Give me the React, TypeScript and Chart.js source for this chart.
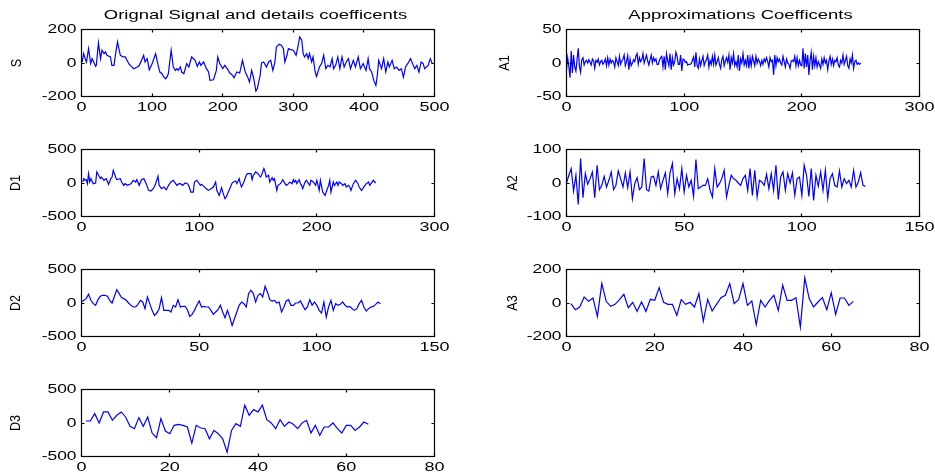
import React, { useEffect, useRef } from "react";
import { Chart, registerables } from "chart.js";
Chart.register(...registerables);

// ---------------- data ----------------
// Original signal S (sample index / value)
const S_T = [1,3,6,7,10,13,15,20,21,24,27,29,32,34,36,41,43,46,48,51,55,59,62,67,69,74,79,82,86,88,90,93,96,100,105,108,111,114,116,119,121,123,127,130,133,135,137,140,142,145,149,152,156,161,164,167,169,173,177,180,182,187,191,193,196,200,203,208,210,214,216,220,224,226,228,232,235,238,241,244,247,249,253,255,258,262,265,268,271,274,276,280,283,286,288,291,293,296,300,304,307,309,312,314,316,319,321,323,326,328,331,333,337,340,343,346,349,352,355,357,360,363,366,369,372,375,378,381,385,388,392,395,399,403,406,408,411,414,417,419,421,425,428,431,434,436,440,443,446,450,453,456,459,462,466,468,472,475,478,481,484,486,491,494,497];
const S_V = [6,56,16,6,86,-4,26,-20,-14,120,26,76,56,66,46,36,-14,-14,46,126,46,36,36,-4,-14,-34,-24,-14,26,46,6,26,-40,-4,56,-4,-54,-64,-80,-94,-84,-64,76,-24,-44,-34,-44,-24,-54,-64,-4,-24,36,16,-20,6,-14,6,-34,-54,-104,-100,-44,36,-4,-34,-14,-44,-60,-74,-88,-54,-60,-24,16,-54,-80,-114,-44,-94,-168,-154,-74,0,6,-24,6,16,-44,6,96,112,106,86,6,46,86,80,76,46,106,156,136,56,36,56,26,56,6,36,-54,-80,-24,-4,46,-34,-14,-24,26,-34,-14,36,-34,36,-24,6,26,-34,16,-24,36,-34,-4,-44,26,-34,-54,-104,-134,-74,16,-34,26,-54,6,-24,16,-34,-24,-44,-34,-84,-24,-4,26,6,-34,-14,-54,6,-4,-34,-14,26,-4];

// Detail D1 (sample index / value)
const D1_T = [1,2,3,4,5,6,7,8,10,12,13,15,16,17,19,21,23,25,26,27,29,30,33,34,36,37,39,42,44,46,47,49,51,53,55,57,59,61,63,65,66,68,70,72,74,76,78,80,81,83,84,86,88,90,91,93,95,96,98,99,101,102,104,106,108,110,112,114,115,117,118,119,121,122,123,126,128,129,131,132,134,135,136,138,140,141,143,144,145,146,147,148,150,152,153,155,156,157,159,160,162,163,164,166,167,169,170,171,173,174,176,177,179,180,181,182,183,185,186,187,188,190,191,193,194,195,197,199,200,202,203,205,207,208,210,211,212,214,215,217,218,219,221,222,224,225,227,228,229,231,233,235,236,238,239,241,242,244,245,246,248,250];
const D1_V = [15,65,40,50,-10,140,15,65,-10,0,165,100,65,90,40,65,-20,65,90,190,90,50,65,15,-35,-10,-35,-10,40,15,50,-35,50,65,-10,-110,-120,-85,-10,100,-35,-85,-60,-100,-35,15,40,-10,-35,-10,-10,-35,0,-10,-35,-135,-135,15,40,15,-35,-20,-50,-85,-110,-85,-60,15,-110,-185,-135,-70,-185,-235,-210,-85,0,15,30,-10,65,-10,-60,15,115,140,140,140,50,115,140,165,140,90,115,215,165,90,115,15,80,40,65,-110,-35,-10,15,50,-10,-35,-10,15,-10,50,15,40,-10,50,-10,-35,-85,15,40,-10,-35,40,15,-35,40,-110,40,-135,-185,-135,-35,40,-135,15,-35,15,-35,15,-10,-35,-10,-60,-35,-60,-110,-10,40,-10,-60,-110,-85,-35,-10,15,-35,-10,40,0];

// Detail D2, samples 0..127
const D2_V = [15,40,65,130,40,-10,-35,50,100,115,115,100,40,0,100,200,140,80,65,40,0,-35,-60,-60,-20,40,15,-85,90,-10,-110,-185,-150,-85,80,-110,-110,-110,-135,-35,-60,50,-60,-50,-50,-100,-200,-170,-110,-35,30,-60,-50,-60,-60,-110,-170,-135,-100,-35,-135,-220,-110,-210,-335,-235,-135,-35,15,-10,-60,140,190,140,15,115,140,90,250,165,50,30,40,0,15,-135,-60,30,50,-35,-35,0,0,30,-35,-100,-60,50,-35,15,-35,-110,-150,15,-210,-60,40,-110,-10,-35,-20,15,-35,-60,-50,-85,-110,-85,-10,40,-60,-120,-85,-60,-50,-20,15,-10];

// Detail D3, samples 1..65
const D3_V = [30,30,140,0,165,165,40,115,165,90,-50,-85,80,-50,90,-150,-220,65,-120,-160,-35,-20,-35,-60,-300,-35,-75,-85,-235,-110,-160,-235,-435,-110,-10,-50,265,115,200,165,265,50,0,-85,50,-50,15,-20,-85,0,40,-150,-35,-185,-60,-60,0,-85,-150,-35,-35,-110,-60,15,-20];

// Approximation A1, samples 0..250
const A1_V = [-10,8,-5,-22,18,-15,12,-6,-12,5,22,-5,-14,5,8,-3,2,4,0,5,1,-3,6,3,-8,4,1,6,-3,2,4,-2,1,6,-4,8,-3,6,0,4,2,-6,8,2,-4,10,-2,3,6,12,-4,2,11,-10,6,-4,0,5,2,10,14,-2,8,2,5,14,0,6,12,3,-3,5,12,0,8,3,6,-2,-2,4,8,10,-6,10,-10,14,4,-4,14,-10,8,-3,2,16,10,-2,-2,12,-12,6,5,1,2,-3,-2,-2,-1,4,9,-6,16,-4,-8,6,-4,4,10,-4,2,5,12,-6,4,-2,10,-2,12,-3,2,8,-2,-8,5,10,-4,3,8,1,12,-10,8,0,14,-4,2,-6,12,-12,6,0,14,-3,4,-4,12,-8,8,-4,10,3,-4,10,0,6,2,-4,4,-2,6,2,8,2,-6,8,2,4,-18,12,-4,8,2,6,0,-3,10,2,-6,6,0,-2,-8,3,4,2,10,-4,8,-4,4,-3,-4,22,-8,14,-6,12,-18,4,16,-10,10,-4,8,-6,2,-3,-8,6,-2,8,0,4,-10,3,10,-2,6,-4,4,2,8,-3,-6,4,0,12,-2,4,10,-4,-8,6,0,12,-8,2,4,-2,0,-2,0];

// Approximation A2, samples 0..127
const A2_V = [0,23,43,-24,23,-64,73,-44,28,-4,13,33,-44,53,-20,-7,20,-12,8,33,-20,-7,36,13,-12,30,-14,33,-47,-2,16,-20,-12,73,-20,-24,18,20,-7,33,-17,8,30,-32,30,58,-32,13,-17,43,-27,23,-12,8,-40,70,-17,-12,-7,-7,13,-22,-42,43,-12,-2,13,38,-42,-7,23,13,8,0,-7,13,23,-22,43,-37,38,-42,8,3,-7,26,-17,28,-22,53,-49,18,33,-22,28,0,30,-37,13,18,-37,53,23,-40,43,-52,23,-10,33,-22,38,-45,13,28,-7,-12,36,-12,13,-2,8,-12,38,-12,3,31,-7,-10];

// Approximation A3, samples 1..65
const A3_V = [-4,-40,-24,36,10,30,-80,116,10,-20,-8,20,52,-28,4,-50,6,-50,22,16,92,4,-8,-8,-74,20,-8,4,-24,56,-108,22,-48,-8,32,46,116,-4,20,116,-14,12,-130,16,-24,16,46,-44,106,16,16,32,-144,150,26,-24,6,32,-40,60,-68,30,30,-14,10];

// tick values
const S_XTICKS = [0, 100, 200, 300, 400, 500];
const S_YTICKS = [-200, 0, 200];
const D1_XTICKS = [0, 100, 200, 300];
const D_YTICKS = [-500, 0, 500];
const D2_XTICKS = [0, 50, 100, 150];
const D3_XTICKS = [0, 20, 40, 60, 80];
const A1_XTICKS = [0, 100, 200, 300];
const A1_YTICKS = [-50, 0, 50];
const A2_XTICKS = [0, 50, 100, 150];
const A2_YTICKS = [-100, 0, 100];
const A3_XTICKS = [0, 20, 40, 60, 80];
const A3_YTICKS = [-200, 0, 200];

const LEFT_TITLE = "Orignal Signal and details coefficents";
const RIGHT_TITLE = "Approximations Coefficents";

// ---------------- helpers ----------------
type Pt = { x: number; y: number };
const pairs = (t: number[], v: number[]): Pt[] => v.map((y, i) => ({ x: t[i], y }));
const seq = (v: number[], start: number): Pt[] => v.map((y, i) => ({ x: start + i, y }));

const FONT = "'Liberation Sans', Arial, Helvetica, sans-serif";
const ROW_H = 120;
const COLS = [
  { left: 0, width: 467, padL: 81.5, padR: 32.5, titleX: 255.5 },
  { left: 467, width: 468, padL: 99.5, padR: 15.5, titleX: 273.5 },
];
const PAD_T = 29.5;
const PAD_B = 23.5;
const TICK = 3;

type PanelDef = {
  col: number; row: number; label: string; labelX: number;
  pts: Pt[]; xMax: number; yMin: number; yMax: number;
  xTicks: number[]; yTicks: number[]; title?: string;
};

const PANELS: PanelDef[] = [
  { col: 0, row: 0, label: "S", labelX: 17.5, pts: pairs(S_T, S_V), xMax: 500, yMin: -200, yMax: 200, xTicks: S_XTICKS, yTicks: S_YTICKS, title: LEFT_TITLE },
  { col: 0, row: 1, label: "D1", labelX: 16, pts: pairs(D1_T, D1_V), xMax: 300, yMin: -500, yMax: 500, xTicks: D1_XTICKS, yTicks: D_YTICKS },
  { col: 0, row: 2, label: "D2", labelX: 16, pts: seq(D2_V, 0), xMax: 150, yMin: -500, yMax: 500, xTicks: D2_XTICKS, yTicks: D_YTICKS },
  { col: 0, row: 3, label: "D3", labelX: 16, pts: seq(D3_V, 1), xMax: 80, yMin: -500, yMax: 500, xTicks: D3_XTICKS, yTicks: D_YTICKS },
  { col: 1, row: 0, label: "A1", labelX: 38, pts: seq(A1_V, 0), xMax: 300, yMin: -50, yMax: 50, xTicks: A1_XTICKS, yTicks: A1_YTICKS, title: RIGHT_TITLE },
  { col: 1, row: 1, label: "A2", labelX: 46.5, pts: seq(A2_V, 0), xMax: 150, yMin: -100, yMax: 100, xTicks: A2_XTICKS, yTicks: A2_YTICKS },
  { col: 1, row: 2, label: "A3", labelX: 46.5, pts: seq(A3_V, 1), xMax: 80, yMin: -200, yMax: 200, xTicks: A3_XTICKS, yTicks: A3_YTICKS },
];

function stretchedText(ctx: CanvasRenderingContext2D, s: string, x: number, y: number, sx: number, align: CanvasTextAlign, font: string) {
  ctx.save();
  ctx.translate(x, y);
  ctx.scale(sx, 1);
  ctx.font = font;
  ctx.textAlign = align;
  ctx.textBaseline = "middle";
  ctx.fillText(s, 0, 0);
  ctx.restore();
}

function Panel({ p }: { p: PanelDef }) {
  const ref = useRef<HTMLCanvasElement>(null);
  const col = COLS[p.col];

  useEffect(() => {
    const canvas = ref.current!;
    const frame = {
      id: "frame",
      afterDraw(chart: any) {
        const ctx: CanvasRenderingContext2D = chart.ctx;
        const a = chart.chartArea;
        const xs = chart.scales.x;
        const ys = chart.scales.y;
        ctx.save();
        ctx.strokeStyle = "#000";
        ctx.lineWidth = 1.2;
        ctx.strokeRect(a.left, a.top, a.right - a.left, a.bottom - a.top);
        ctx.beginPath();
        for (const t of p.xTicks) {
          const x = Math.floor(xs.getPixelForValue(t)) + 0.5;
          ctx.moveTo(x, a.bottom); ctx.lineTo(x, a.bottom - TICK);
          ctx.moveTo(x, a.top); ctx.lineTo(x, a.top + TICK);
        }
        for (const t of p.yTicks) {
          const y = Math.floor(ys.getPixelForValue(t)) + 0.5;
          ctx.moveTo(a.left, y); ctx.lineTo(a.left + TICK, y);
          ctx.moveTo(a.right, y); ctx.lineTo(a.right - TICK, y);
        }
        ctx.stroke();
        ctx.fillStyle = "#000";
        for (const t of p.yTicks) {
          stretchedText(ctx, String(t), a.left - 5, ys.getPixelForValue(t) + 0.5, 1.45, "right", `12px ${FONT}`);
        }
        for (const t of p.xTicks) {
          stretchedText(ctx, String(t), xs.getPixelForValue(t), a.bottom + 11, 1.5, "center", `12px ${FONT}`);
        }
        if (p.title) {
          stretchedText(ctx, p.title, col.titleX, 15, 1.42, "center", `13px ${FONT}`);
        }
        // rotated y label
        ctx.save();
        ctx.translate(p.labelX, (a.top + a.bottom) / 2);
        ctx.rotate(-Math.PI / 2);
        ctx.scale(0.9, 1.0);
        ctx.font = `14px ${FONT}`;
        ctx.textAlign = "center";
        ctx.textBaseline = "middle";
        ctx.fillText(p.label, 0, 0);
        ctx.restore();
        ctx.restore();
      },
    };

    const chart = new Chart(canvas, {
      type: "line",
      data: {
        datasets: [
          {
            data: p.pts,
            borderColor: "#0000ff",
            borderWidth: 1.2,
            pointRadius: 0,
            tension: 0,
            fill: false,
          },
        ],
      },
      options: {
        animation: false,
        responsive: false,
        maintainAspectRatio: false,
        events: [],
        layout: { padding: { left: col.padL, right: col.padR, top: PAD_T, bottom: PAD_B } },
        plugins: { legend: { display: false }, tooltip: { enabled: false } },
        scales: {
          x: { type: "linear", min: 0, max: p.xMax, display: false },
          y: { type: "linear", min: p.yMin, max: p.yMax, display: false },
        },
      },
      plugins: [frame],
    } as any);
    return () => chart.destroy();
  }, []);

  return (
    <canvas
      ref={ref}
      width={col.width}
      height={ROW_H}
      style={{ position: "absolute", left: col.left, top: p.row * ROW_H, width: col.width, height: ROW_H }}
    />
  );
}

export default function App() {
  return (
    <div style={{ position: "fixed", left: 0, top: 0, width: 935, height: 475, overflow: "hidden", background: "#fff" }}>
      {PANELS.map((p) => (
        <Panel key={p.label} p={p} />
      ))}
    </div>
  );
}
